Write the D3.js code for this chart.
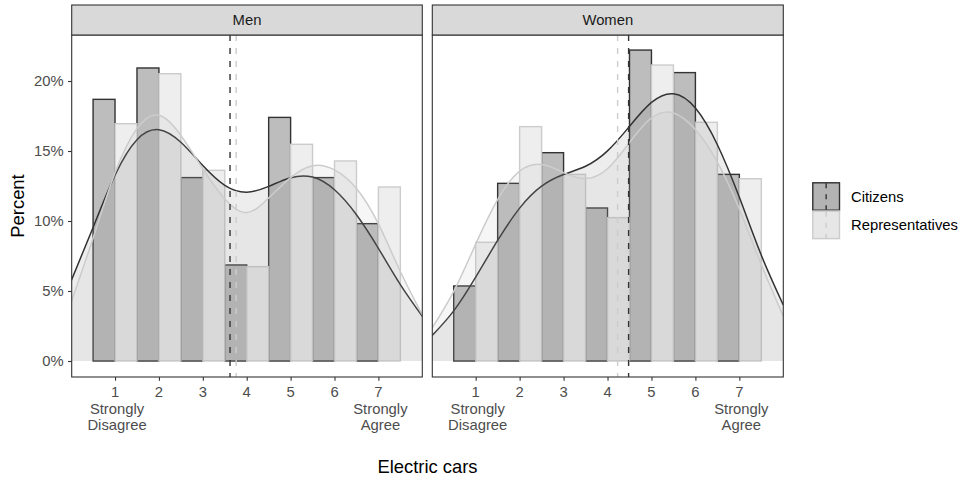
<!DOCTYPE html>
<html>
<head>
<meta charset="utf-8">
<script src="https://cdn.jsdelivr.net/npm/d3@7"></script>
<style>
  html, body { margin: 0; padding: 0; background: #ffffff; }
  svg { display: block; font-family: "Liberation Sans", Arial, sans-serif; }
</style>
</head>
<body>
<svg id="chart" width="968" height="479"></svg>
<script>
// ---- data -------------------------------------------------------------
const panelNames = ["Men", "Women"];
const groups = ["Citizens", "Representatives"];

// histogram bins (score 0 and 8 are empty bins at the edges)
const scores = [0, 1, 2, 3, 4, 5, 6, 7, 8];
const menCitizens = [0, 18.69, 20.93, 13.10, 6.86, 17.40, 13.10, 9.81, 0];
const menRepresentatives = [0, 16.95, 20.52, 13.62, 6.74, 15.48, 14.29, 12.43, 0];
const womenCitizens = [0, 5.36, 12.69, 14.88, 10.93, 22.21, 20.60, 13.33, 0];
const womenRepresentatives = [0, 8.48, 16.74, 13.33, 10.24, 21.14, 17.05, 13.02, 0];

// density curves (percent per scale point)
const densityX = [0, 0.5, 1, 1.5, 2, 2.5, 3, 3.5, 4, 4.5, 5, 5.5, 6, 6.5, 7, 7.5, 8];
const menCitizensDensity = [5.72, 9.54, 13.28, 15.81, 16.52, 15.62, 13.96, 12.55, 12.06, 12.47, 13.09, 13.14, 12.23, 10.45, 8.05, 5.46, 3.2];
const menRepresentativesDensity = [4.2, 8.77, 13.44, 16.6, 17.55, 16.11, 13.73, 11.57, 10.6, 11.64, 13.1, 13.95, 13.65, 12.32, 9.8, 6.39, 3.3];
const womenCitizensDensity = [1.79, 3.58, 5.99, 8.61, 10.92, 12.49, 13.32, 13.91, 15.01, 16.76, 18.47, 19.09, 18.07, 15.45, 11.69, 7.55, 4.0];
const womenRepresentativesDensity = [2.31, 4.97, 8.35, 11.53, 13.56, 14.03, 13.46, 13.03, 13.73, 15.6, 17.36, 17.72, 16.53, 14.2, 10.85, 6.89, 3.2];

// group means
const citizensMean = [3.62, 4.48];
const representativesMean = [3.76, 4.23];

// axis ticks
const xTicks = [1, 2, 3, 4, 5, 6, 7];
const xTickLabels = [["1", "Strongly", "Disagree"], ["2"], ["3"], ["4"], ["5"], ["6"], ["7", "Strongly", "Agree"]];
const yTicks = [0, 5, 10, 15, 20];

// ---- styles -----------------------------------------------------------
const style = {
  Citizens: { barFill: "#bdbdbd", line: "#333333", densFill: "#777777" },
  Representatives: { barFill: "#eeeeee", line: "#cccccc", densFill: "#bbbbbb" }
};
const densAlpha = 0.13;
const dash = "6,7";

const svg = d3.select("#chart");

const panelTop = 35, panelBottom = 377, stripTop = 5;
const panelsLayout = [
  { name: panelNames[0], x0: 71.7, x1: 422.3,
    bars: { Citizens: menCitizens, Representatives: menRepresentatives },
    dens: { Citizens: menCitizensDensity, Representatives: menRepresentativesDensity },
    means: { Citizens: citizensMean[0], Representatives: representativesMean[0] } },
  { name: panelNames[1], x0: 432.3, x1: 783.3,
    bars: { Citizens: womenCitizens, Representatives: womenRepresentatives },
    dens: { Citizens: womenCitizensDensity, Representatives: womenRepresentativesDensity },
    means: { Citizens: citizensMean[1], Representatives: representativesMean[1] } }
];

const y = d3.scaleLinear().domain([-1.143, 23.286]).range([panelBottom, panelTop]);

panelsLayout.forEach((p, pi) => {
  const x = d3.scaleLinear().domain([0.013, 8]).range([p.x0, p.x1]);
  const clipId = "clip" + pi;
  svg.append("clipPath").attr("id", clipId)
    .append("rect").attr("x", p.x0).attr("y", panelTop)
    .attr("width", p.x1 - p.x0).attr("height", panelBottom - panelTop);

  const g = svg.append("g").attr("clip-path", `url(#${clipId})`);

  // dodged histogram bars
  groups.forEach(grp => {
    const off = grp === "Citizens" ? -0.5 : 0;
    g.append("g").selectAll("rect")
      .data(scores.map((s, i) => ({ s, v: p.bars[grp][i] })))
      .join("rect")
      .attr("x", d => x(d.s + off))
      .attr("width", d => x(d.s + off + 0.5) - x(d.s + off))
      .attr("y", d => y(d.v))
      .attr("height", d => y(0) - y(d.v))
      .attr("fill", style[grp].barFill)
      .attr("stroke", style[grp].line)
      .attr("stroke-width", 1.4);
  });

  // density areas and curves
  groups.forEach(grp => {
    const pts = densityX.map((dx, i) => [dx, p.dens[grp][i]]);
    const area = d3.area().x(d => x(d[0])).y0(y(0)).y1(d => y(d[1])).curve(d3.curveNatural);
    const line = d3.line().x(d => x(d[0])).y(d => y(d[1])).curve(d3.curveNatural);
    g.append("path").attr("d", area(pts))
      .attr("fill", style[grp].densFill).attr("fill-opacity", densAlpha);
    g.append("path").attr("d", line(pts))
      .attr("fill", "none").attr("stroke", style[grp].line).attr("stroke-width", 1.5);
  });

  // mean lines
  groups.forEach(grp => {
    g.append("line")
      .attr("x1", x(p.means[grp])).attr("x2", x(p.means[grp]))
      .attr("y1", panelTop).attr("y2", panelBottom)
      .attr("stroke", style[grp].line).attr("stroke-width", 1.4)
      .attr("stroke-dasharray", dash);
  });

  // panel border
  svg.append("rect").attr("x", p.x0).attr("y", panelTop)
    .attr("width", p.x1 - p.x0).attr("height", panelBottom - panelTop)
    .attr("fill", "none").attr("stroke", "#333333").attr("stroke-width", 1.1);

  // strip
  svg.append("rect").attr("x", p.x0).attr("y", stripTop)
    .attr("width", p.x1 - p.x0).attr("height", panelTop - stripTop)
    .attr("fill", "#d9d9d9").attr("stroke", "#333333").attr("stroke-width", 1.1);
  svg.append("text").attr("x", (p.x0 + p.x1) / 2).attr("y", (stripTop + panelTop) / 2)
    .attr("text-anchor", "middle").attr("dominant-baseline", "central")
    .attr("font-size", 14.8).attr("fill", "#1a1a1a").text(p.name);

  // x axis
  const xAxis = svg.append("g").attr("transform", `translate(0,${panelBottom})`)
    .call(d3.axisBottom(x).tickValues(xTicks).tickSize(3.7).tickPadding(6.2).tickFormat(""));
  xAxis.select(".domain").remove();
  xAxis.selectAll(".tick line").attr("stroke", "#333333").attr("stroke-width", 1.1);
  xAxis.selectAll(".tick text").remove();
  xTicks.forEach((t, i) => {
    const txt = svg.append("text").attr("text-anchor", "middle")
      .attr("font-size", 14.8).attr("fill", "#4d4d4d");
    xTickLabels[i].forEach((ln, j) => {
      txt.append("tspan").attr("x", x(t) + (j > 0 ? 2 : 0)).attr("y", 397.3 + j * 16.5).text(ln);
    });
  });

  // y axis (left panel only)
  if (pi === 0) {
    const yAxis = svg.append("g").attr("transform", `translate(${p.x0},0)`)
      .call(d3.axisLeft(y).tickValues(yTicks).tickSize(3.7).tickPadding(4.3).tickFormat(d => d + "%"));
    yAxis.select(".domain").remove();
    yAxis.selectAll(".tick line").attr("stroke", "#333333").attr("stroke-width", 1.1);
    yAxis.selectAll(".tick text").attr("font-size", 14.8).attr("fill", "#4d4d4d")
      .attr("font-family", "Liberation Sans, Arial, sans-serif");
  }
});

// axis titles
svg.append("text").attr("x", 427.5).attr("y", 472.5).attr("text-anchor", "middle")
  .attr("font-size", 18.4).attr("fill", "#000").text("Electric cars");
svg.append("text").attr("transform", "translate(23.5,206) rotate(-90)")
  .attr("text-anchor", "middle").attr("font-size", 18.4).attr("fill", "#000").text("Percent");

// legend
const keyX = 812.3, keyW = 27.7, keyH = 28.4, keyY0 = 182.3;
groups.forEach((grp, i) => {
  const ky = keyY0 + i * keyH;
  const lg = svg.append("g");
  lg.append("rect").attr("x", keyX).attr("y", ky).attr("width", keyW).attr("height", keyH)
    .attr("fill", style[grp].barFill);
  lg.append("rect").attr("x", keyX).attr("y", ky).attr("width", keyW).attr("height", keyH)
    .attr("fill", style[grp].densFill).attr("fill-opacity", densAlpha);
  lg.append("line").attr("x1", keyX + keyW / 2).attr("x2", keyX + keyW / 2)
    .attr("y1", ky + 1).attr("y2", ky + keyH - 1)
    .attr("stroke", style[grp].line).attr("stroke-width", 1.4).attr("stroke-dasharray", "5,6");
  lg.append("rect").attr("x", keyX + 0.5).attr("y", ky + 0.5).attr("width", keyW - 1).attr("height", keyH - 1)
    .attr("fill", "none").attr("stroke", style[grp].line).attr("stroke-width", 1.4);
  lg.append("text").attr("x", 851).attr("y", ky + keyH / 2)
    .attr("dominant-baseline", "central").attr("font-size", 14.8).attr("fill", "#000").text(grp);
});
</script>
</body>
</html>
